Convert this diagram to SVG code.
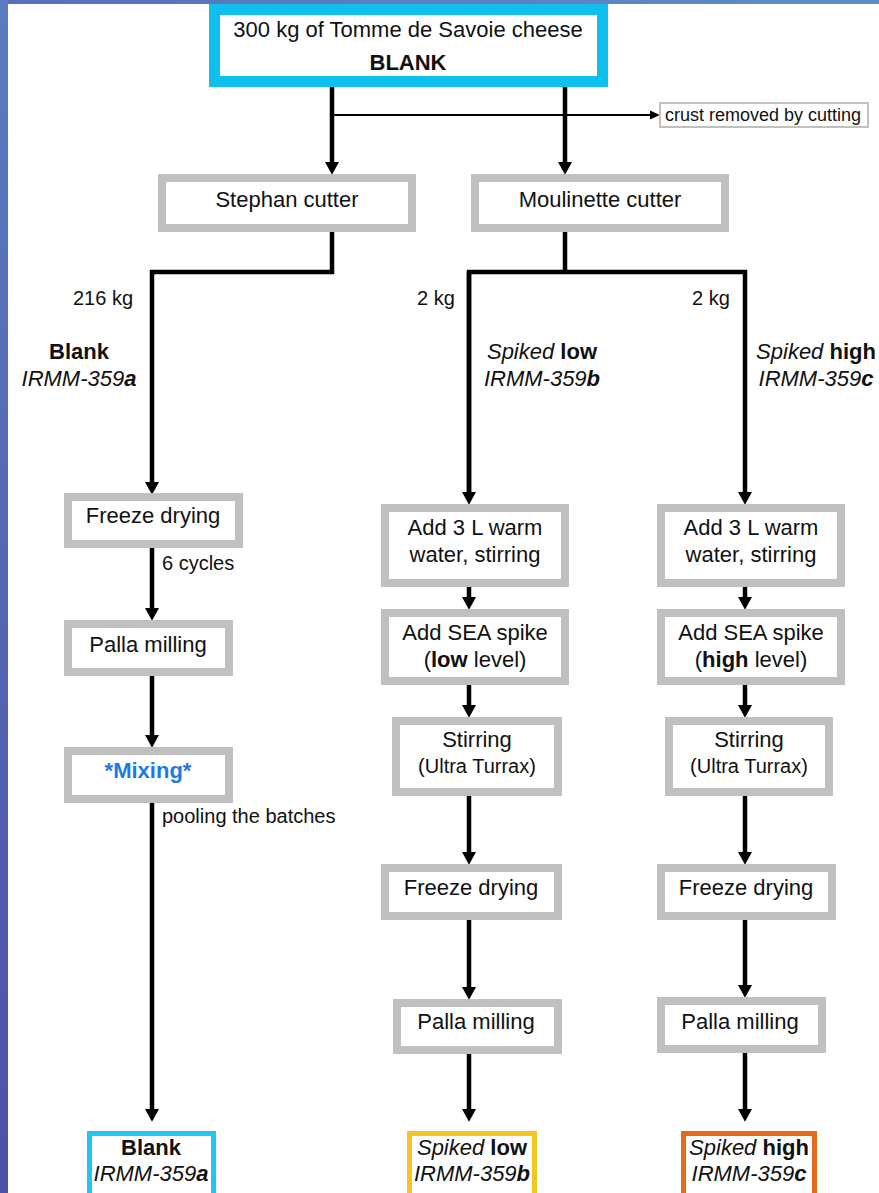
<svg xmlns="http://www.w3.org/2000/svg" width="879" height="1193" viewBox="0 0 879 1193">
<style>
text{font-family:"Liberation Sans",Arial,sans-serif;fill:#111}
.t22{font-size:22px}
.t20{font-size:20px}
.c{text-anchor:middle}
.b{font-weight:bold}
.i{font-style:italic}
.gray{fill:#fff;stroke:#c0c0c0;stroke-width:8}
.thick{fill:none;stroke:#000;stroke-width:4.5;stroke-linejoin:miter}
</style>
<defs>
<linearGradient id="lg" x1="0" y1="0" x2="0" y2="1"><stop offset="0" stop-color="#5a7cc0"/><stop offset="1" stop-color="#4f50a8"/></linearGradient>
<linearGradient id="tg" x1="0" y1="0" x2="1" y2="0"><stop offset="0" stop-color="#5672b8"/><stop offset="1" stop-color="#5f8ec6"/></linearGradient>
<marker id="ah" markerUnits="userSpaceOnUse" markerWidth="14" markerHeight="14" viewBox="0 0 12 13" refX="1" refY="6.5" orient="auto"><path d="M0,0 L12,6.5 L0,13 z" fill="#000"/></marker>
<marker id="ahs" markerUnits="userSpaceOnUse" markerWidth="10" markerHeight="10" viewBox="0 0 9 8" refX="1" refY="4" orient="auto"><path d="M0,0 L9,4 L0,8 z" fill="#000"/></marker>
</defs>
<rect x="0" y="0" width="879" height="1193" fill="#fff"/>
<rect x="0" y="0" width="879" height="4" fill="url(#tg)"/>
<rect x="0" y="0" width="8" height="1193" fill="url(#lg)"/>

<g id="connectors">
<path class="thick" d="M332,87 V163" marker-end="url(#ah)"/>
<path class="thick" d="M565,87 V163" marker-end="url(#ah)"/>
<path d="M332,115 H651" fill="none" stroke="#000" stroke-width="2" marker-end="url(#ahs)"/>
<path class="thick" d="M332,232 V272 H152 V483" marker-end="url(#ah)"/>
<path class="thick" d="M152,548 V609" marker-end="url(#ah)"/>
<path class="thick" d="M152,676 V736" marker-end="url(#ah)"/>
<path class="thick" d="M152,803 V1110" marker-end="url(#ah)"/>
<path class="thick" d="M565,232 V272"/>
<path class="thick" d="M469,493 V272 H745 V493" marker-end="url(#ah)"/>
<path class="thick" d="M469,272 V493" marker-end="url(#ah)"/>
<path class="thick" d="M469,587 V598" marker-end="url(#ah)"/>
<path class="thick" d="M469,685 V706" marker-end="url(#ah)"/>
<path class="thick" d="M469,796 V853" marker-end="url(#ah)"/>
<path class="thick" d="M469,920 V988" marker-end="url(#ah)"/>
<path class="thick" d="M469,1054 V1110" marker-end="url(#ah)"/>
<path class="thick" d="M745,587 V598" marker-end="url(#ah)"/>
<path class="thick" d="M745,685 V706" marker-end="url(#ah)"/>
<path class="thick" d="M745,796 V853" marker-end="url(#ah)"/>
<path class="thick" d="M745,920 V986" marker-end="url(#ah)"/>
<path class="thick" d="M745,1053 V1110" marker-end="url(#ah)"/>
</g>

<g id="labels">
<text class="t20" x="73" y="305">216 kg</text>
<text class="t20" x="417" y="305">2 kg</text>
<text class="t20" x="692" y="305">2 kg</text>
<text class="t22 c b" x="79" y="359">Blank</text>
<text class="t22 c i" x="79" y="386">IRMM-359<tspan class="b">a</tspan></text>
<text class="t22 c" x="542" y="359"><tspan class="i">Spiked</tspan> <tspan class="b">low</tspan></text>
<text class="t22 c i" x="542" y="386">IRMM-359<tspan class="b">b</tspan></text>
<text class="t22 c" x="816" y="359"><tspan class="i">Spiked</tspan> <tspan class="b">high</tspan></text>
<text class="t22 c i" x="816" y="386">IRMM-359<tspan class="b">c</tspan></text>
<text class="t20" x="162" y="570">6 cycles</text>
<text class="t20" x="162" y="823">pooling the batches</text>
</g>

<g id="node-top">
<rect x="214.5" y="9.5" width="388" height="72" fill="#fff" stroke="#0fc0ef" stroke-width="11"/>
<text class="t22 c" x="408" y="37">300 kg of Tomme de Savoie cheese</text>
<text class="t22 c b" x="408" y="70">BLANK</text>
</g>
<g id="node-crust">
<rect x="660" y="103" width="208" height="24" fill="#fff" stroke="#c0c0c0" stroke-width="2"/>
<text style="font-size:18px" x="665" y="121">crust removed by cutting</text>
</g>
<g id="node-stephan">
<rect class="gray" x="162" y="178" width="250" height="50"/>
<text class="t22 c" x="287" y="207">Stephan cutter</text>
</g>
<g id="node-moulinette">
<rect class="gray" x="475" y="178" width="250" height="50"/>
<text class="t22 c" x="600" y="207">Moulinette cutter</text>
</g>

<g id="node-a-freeze">
<rect class="gray" x="68" y="497" width="171" height="47"/>
<text class="t22 c" x="153" y="523">Freeze drying</text>
</g>
<g id="node-a-palla">
<rect class="gray" x="68" y="624" width="161" height="48"/>
<text class="t22 c" x="148" y="652">Palla milling</text>
</g>
<g id="node-a-mixing">
<rect class="gray" x="68" y="751" width="161" height="48"/>
<text class="t22 c b" x="148" y="778" style="fill:#1e78e6">*Mixing*</text>
</g>

<g id="node-b-water">
<rect class="gray" x="385" y="508" width="180" height="75"/>
<text class="t22 c" x="475" y="535">Add 3 L warm</text>
<text class="t22 c" x="475" y="562">water, stirring</text>
</g>
<g id="node-b-spike">
<rect class="gray" x="385" y="613" width="180" height="68"/>
<text class="t22 c" x="475" y="640">Add SEA spike</text>
<text class="t22 c" x="475" y="667">(<tspan class="b">low</tspan> level)</text>
</g>
<g id="node-b-stir">
<rect class="gray" x="396" y="721" width="162" height="71"/>
<text class="t22 c" x="477" y="747">Stirring</text>
<text class="t20 c" x="477" y="773">(Ultra Turrax)</text>
</g>
<g id="node-b-freeze">
<rect class="gray" x="385" y="868" width="173" height="48"/>
<text class="t22 c" x="471" y="895">Freeze drying</text>
</g>
<g id="node-b-palla">
<rect class="gray" x="397" y="1003" width="161" height="47"/>
<text class="t22 c" x="476" y="1029">Palla milling</text>
</g>

<g id="node-c-water">
<rect class="gray" x="661" y="508" width="180" height="75"/>
<text class="t22 c" x="751" y="535">Add 3 L warm</text>
<text class="t22 c" x="751" y="562">water, stirring</text>
</g>
<g id="node-c-spike">
<rect class="gray" x="661" y="613" width="180" height="68"/>
<text class="t22 c" x="751" y="640">Add SEA spike</text>
<text class="t22 c" x="751" y="667">(<tspan class="b">high</tspan> level)</text>
</g>
<g id="node-c-stir">
<rect class="gray" x="669" y="721" width="160" height="71"/>
<text class="t22 c" x="749" y="747">Stirring</text>
<text class="t20 c" x="749" y="773">(Ultra Turrax)</text>
</g>
<g id="node-c-freeze">
<rect class="gray" x="661" y="868" width="171" height="48"/>
<text class="t22 c" x="746" y="895">Freeze drying</text>
</g>
<g id="node-c-palla">
<rect class="gray" x="661" y="1001" width="161" height="48"/>
<text class="t22 c" x="740" y="1029">Palla milling</text>
</g>

<g id="node-final-a">
<rect x="89.5" y="1133.5" width="124" height="70" fill="#fff" stroke="#1ec6f0" stroke-width="5"/>
<text class="t22 c b" x="151" y="1155">Blank</text>
<text class="t22 c i" x="151" y="1181">IRMM-359<tspan class="b">a</tspan></text>
</g>
<g id="node-final-b">
<rect x="409.5" y="1133.5" width="125" height="70" fill="#fff" stroke="#f3c623" stroke-width="5"/>
<text class="t22 c" x="472" y="1155"><tspan class="i">Spiked</tspan> <tspan class="b">low</tspan></text>
<text class="t22 c i" x="472" y="1181">IRMM-359<tspan class="b">b</tspan></text>
</g>
<g id="node-final-c">
<rect x="683.5" y="1133.5" width="131" height="70" fill="#fff" stroke="#e8681c" stroke-width="5"/>
<text class="t22 c" x="749" y="1155"><tspan class="i">Spiked</tspan> <tspan class="b">high</tspan></text>
<text class="t22 c i" x="749" y="1181">IRMM-359<tspan class="b">c</tspan></text>
</g>
</svg>
